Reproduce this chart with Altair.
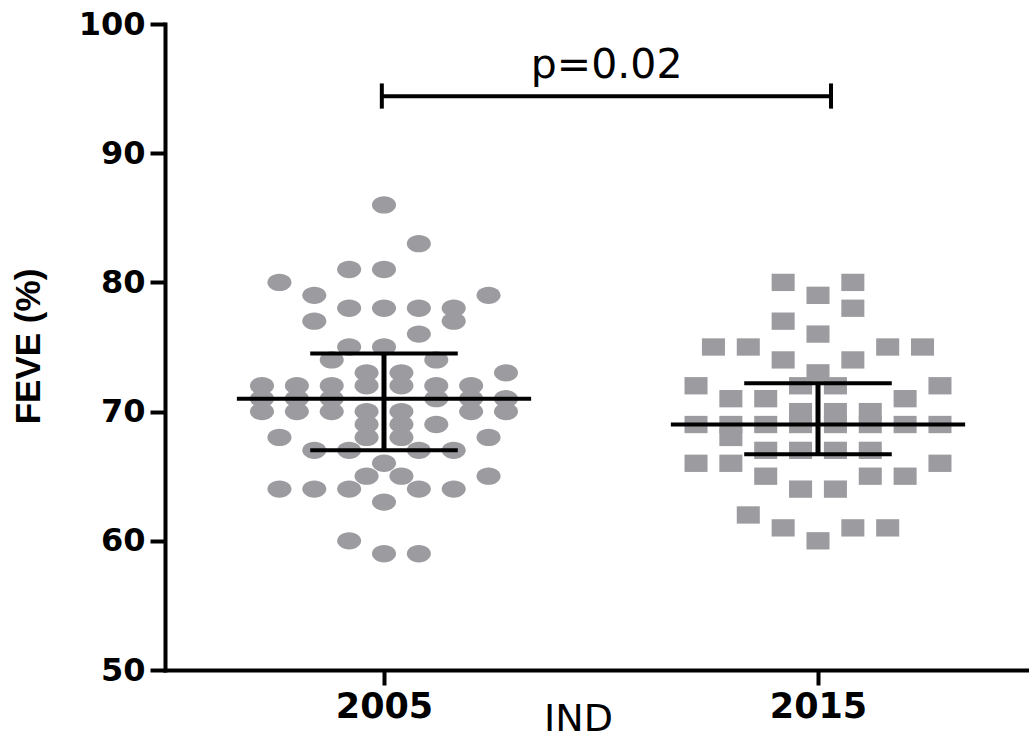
import altair as alt
import pandas as pd

# ---- data ----
groups = ["2005", "2015"]

v2005 = [86,
         83,
         81, 81,
         80,
         79, 79,
         78, 78, 78, 78,
         77, 77,
         76,
         75, 75,
         74, 74,
         73, 73, 73,
         72, 72, 72, 72, 72, 72, 72,
         71, 71, 71, 71, 71, 71,
         70, 70, 70, 70, 70, 70, 70,
         69, 69, 69,
         68, 68, 68, 68,
         67, 67, 67, 67,
         66,
         65, 65, 65,
         64, 64, 64, 64, 64,
         63,
         60,
         59, 59]
# swarm column of each point (in dot widths from the group centre)
c2005 = [0,
         1,
         -1, 0,
         -3,
         -2, 3,
         -1, 0, 1, 2,
         -2, 2,
         1,
         -1, 0,
         -1.5, 1.5,
         -0.5, 0.5, 3.5,
         -3.5, -2.5, -1.5, -0.5, 0.5, 1.5, 2.5,
         -3.5, -2.5, -1.5, 1.5, 2.5, 3.5,
         -3.5, -2.5, -1.5, -0.5, 0.5, 2.5, 3.5,
         -0.5, 0.5, 1.5,
         -3, -0.5, 0.5, 3,
         -2, -1, 1, 2,
         0,
         -0.5, 0.5, 3,
         -3, -2, -1, 1, 2,
         0,
         -1,
         0, 1]

v2015 = [80, 80,
         79,
         78,
         77,
         76,
         75, 75, 75, 75,
         74, 74,
         73,
         72, 72, 72, 72,
         71, 71, 71,
         70, 70, 70,
         69, 69, 69, 69, 69, 69, 69, 69,
         68,
         67, 67, 67, 67,
         66, 66, 66,
         65, 65, 65,
         64, 64,
         62,
         61, 61, 61,
         60]
c2015 = [-1, 1,
         0,
         1,
         -1,
         0,
         -3, -2, 2, 3,
         -1, 1,
         0,
         -3.5, -0.5, 0.5, 3.5,
         -2.5, -1.5, 2.5,
         -0.5, 0.5, 1.5,
         -3.5, -2.5, -1.5, -0.5, 0.5, 1.5, 2.5, 3.5,
         -2.5,
         -1.5, -0.5, 0.5, 1.5,
         -3.5, -2.5, 3.5,
         -1.5, 1.5, 2.5,
         -0.5, 0.5,
         -2,
         -1, 1, 2,
         0]

# median and interquartile range drawn as lines
summ_year = [2005, 2015]
summ_mid = [71.0, 69.0]
summ_lo = [67.0, 66.7]
summ_hi = [74.5, 72.2]

# significance bracket
bracket_x = [2004.95, 2015.3]
bracket_y = 94.4
bracket_tick = [93.45, 95.4]
p_label = "p=0.02"
p_x = 2010.13
p_y = 95.8

y_ticks = [50, 60, 70, 80, 90, 100]
x_ticks = [2005, 2015]

# ---- build tables ----
pts = pd.DataFrame({
    "grp": [groups[0]] * len(v2005) + [groups[1]] * len(v2015),
    "year": [2005] * len(v2005) + [2015] * len(v2015),
    "feve": v2005 + v2015,
    "col": c2005 + c2015,
})
summ = pd.DataFrame({"year": summ_year, "mid": summ_mid, "lo": summ_lo, "hi": summ_hi})
br = pd.DataFrame({"x1": [bracket_x[0]], "x2": [bracket_x[1]], "y": [bracket_y]})
br_ends = pd.DataFrame({"x": bracket_x, "ya": [bracket_tick[0]] * 2, "yb": [bracket_tick[1]] * 2})
ptxt = pd.DataFrame({"x": [p_x], "y": [p_y], "t": [p_label]})

COL = 0.803
MEAN_HALF = 3.39
CAP_HALF = 1.70
GREY = "#9c9ca0"
ELLIPSE = ("M1.39,0 C1.39,0.5523 0.7677,1 0,1 C-0.7677,1 -1.39,0.5523 -1.39,0 "
           "C-1.39,-0.5523 -0.7677,-1 0,-1 C0.7677,-1 1.39,-0.5523 1.39,0 Z")
SQUARE = "M-1.33,-1 L1.33,-1 L1.33,1 L-1.33,1 Z"

xscale = alt.Scale(domain=[1999.954, 2019.862], nice=False, zero=False)
yscale = alt.Scale(domain=[50, 100], nice=False, zero=False)

xaxis = alt.Axis(values=x_ticks, format="d", title="IND", grid=False,
                 labelFont="DejaVu Sans", labelFontWeight="bold", labelFontSize=35,
                 labelColor="black", labelPadding=4,
                 tickSize=15, tickWidth=4, tickColor="black",
                 domainColor="black", domainWidth=4, domainCap="square",
                 titleFont="DejaVu Sans", titleFontWeight="normal", titleFontSize=38,
                 titleColor="black", titleX=413, titleY=60, titleAlign="center",
                 titleBaseline="alphabetic")
yaxis = alt.Axis(values=y_ticks, title="FEVE (%)", grid=False,
                 labelFont="DejaVu Sans", labelFontWeight="bold", labelFontSize=32,
                 labelColor="black", labelPadding=5,
                 tickSize=15, tickWidth=4, tickColor="black",
                 domainColor="black", domainWidth=4, domainCap="square",
                 titleFont="Liberation Sans", titleFontWeight="bold", titleFontSize=35,
                 titleColor="black", titleX=-126, titleY=322, titleAngle=270,
                 titleAlign="center", titleBaseline="alphabetic")


def X(field):
    return alt.X(field, scale=xscale, axis=xaxis, title="IND")


def Y(field):
    return alt.Y(field, scale=yscale, axis=yaxis, title="FEVE (%)")


points = alt.Chart(pts).transform_calculate(
    xpos=f"datum.year + datum.col * {COL}"
).mark_point(filled=True, size=300, opacity=1, color=GREY, strokeWidth=0).encode(
    x=X("xpos:Q"),
    y=Y("feve:Q"),
    shape=alt.Shape("grp:N", scale=alt.Scale(domain=groups, range=[ELLIPSE, SQUARE]), legend=None),
)

base = alt.Chart(summ)
mid_line = base.transform_calculate(
    a=f"datum.year - {MEAN_HALF}", b=f"datum.year + {MEAN_HALF}"
).mark_rule(color="black", strokeWidth=4).encode(x=X("a:Q"), x2="b:Q", y=Y("mid:Q"))
hi_cap = base.transform_calculate(
    a=f"datum.year - {CAP_HALF}", b=f"datum.year + {CAP_HALF}"
).mark_rule(color="black", strokeWidth=4).encode(x=X("a:Q"), x2="b:Q", y=Y("hi:Q"))
lo_cap = base.transform_calculate(
    a=f"datum.year - {CAP_HALF}", b=f"datum.year + {CAP_HALF}"
).mark_rule(color="black", strokeWidth=4).encode(x=X("a:Q"), x2="b:Q", y=Y("lo:Q"))
vert = base.mark_rule(color="black", strokeWidth=5).encode(
    x=X("year:Q"), y=Y("lo:Q"), y2="hi:Q")

br_line = alt.Chart(br).mark_rule(color="black", strokeWidth=4).encode(
    x=X("x1:Q"), x2="x2:Q", y=Y("y:Q"))
br_tick = alt.Chart(br_ends).mark_rule(color="black", strokeWidth=4).encode(
    x=X("x:Q"), y=Y("ya:Q"), y2="yb:Q")
p_text = alt.Chart(ptxt).mark_text(font="DejaVu Sans", fontSize=41, color="black",
                                   baseline="alphabetic", align="center").encode(
    x=X("x:Q"), y=Y("y:Q"), text="t:N")

chart = alt.layer(points, mid_line, hi_cap, lo_cap, vert, br_line, br_tick, p_text).properties(
    width=864, height=646,
    autosize=alt.AutoSizeParams(type="none"),
    padding={"left": 165, "top": 24, "right": 0, "bottom": 70},
    background="white",
).configure_view(stroke=None)

chart.save("out.html", embed_options={"renderer": "svg", "actions": False})
